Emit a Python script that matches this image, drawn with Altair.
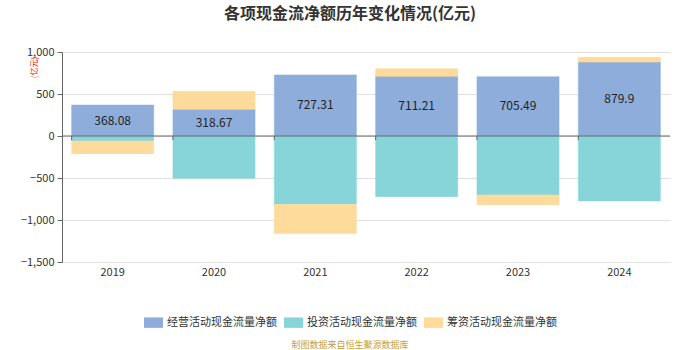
import altair as alt
import pandas as pd

years = ["2019", "2020", "2021", "2022", "2023", "2024"]
operating = [368.08, 318.67, 727.31, 711.21, 705.49, 879.9]
investing = [-60, -504, -813, -722, -702, -774]
financing = [-150, 213, -349, 90, -115, 57]
series = ["经营活动现金流量净额", "投资活动现金流量净额", "筹资活动现金流量净额"]
colors = ["#8EADDB", "#87D5D9", "#FEDA9B"]
source_text = "制图数据来自恒生聚源数据库"
font = "Noto Sans CJK SC"

rows = []
for i, y in enumerate(years):
    for k, vals in enumerate([operating, investing, financing]):
        rows.append({"year": y, "series": series[k], "value": vals[i], "order": k})
df = pd.DataFrame(rows)
lab = pd.DataFrame({"year": years, "value": operating, "half": [v / 2 for v in operating]})

xenc = alt.X("year:N", sort=years, title=None,
             scale=alt.Scale(paddingInner=0.19, paddingOuter=0.095),
             axis=alt.Axis(domain=False, ticks=False, labelAngle=0, labelFontSize=11,
                           labelColor="#333333", labelPadding=4, labelFont=font))

bars = alt.Chart(df).mark_bar(strokeWidth=1, strokeOpacity=0.5).encode(
    x=xenc,
    y=alt.Y("value:Q", stack="zero",
            scale=alt.Scale(domain=[-1500, 1000], nice=False),
            axis=alt.Axis(values=[-1500, -1000, -500, 0, 500, 1000], format=",.0f",
                          title="(亿元)", titleColor="#ff0000", titleFontSize=8,
                          titleFontWeight="normal", titleX=-28, titleY=15,
                          titleAlign="center", titleBaseline="middle", titleFont=font,
                          labelFontSize=11, labelColor="#333333", labelFont=font,
                          domain=True, domainColor="#666666", tickColor="#666666",
                          tickSize=5, labelPadding=3,
                          grid=True, gridColor="#E0E0E0")),
    color=alt.Color("series:N", sort=series,
                    scale=alt.Scale(domain=series, range=colors),
                    legend=alt.Legend(title=None, orient="none", direction="horizontal",
                                      legendX=82, legendY=261,
                                      symbolType="M-1,-0.55 L1,-0.55 L1,0.55 L-1,0.55 Z",
                                      symbolSize=360, symbolStrokeWidth=0,
                                      labelFontSize=11, labelColor="#333333", labelFont=font,
                                      columnPadding=7, symbolOffset=0)),
    stroke=alt.Color("series:N", sort=series,
                     scale=alt.Scale(domain=series, range=colors), legend=None),
    order=alt.Order("order:Q"),
)

zero = alt.Chart(pd.DataFrame({"z": [0]})).mark_rule(color="#666666", strokeWidth=1).encode(
    y=alt.Y("z:Q"))

ticks_df = pd.DataFrame({"year": years})
zticks = alt.Chart(ticks_df).mark_rule(color="#666666").encode(
    x=alt.X("year:N", sort=years, bandPosition=0),
    y=alt.datum(0), y2=alt.datum(-50))

labels = alt.Chart(lab).mark_text(fontSize=12, color="#222222", font=font).encode(
    x=alt.X("year:N", sort=years),
    y=alt.Y("half:Q"),
    text=alt.Text("value:Q"))

src = alt.Chart(pd.DataFrame({"t": [source_text]})).mark_text(
    fontSize=9, color="#C9A035", font=font).encode(
    x=alt.value(288), y=alt.value(293), text="t:N")

chart = alt.layer(bars, zero, zticks, labels, src).properties(
    width=608, height=210,
    autosize=alt.AutoSizeParams(type="none"),
    padding={"left": 62, "top": 52, "right": 30, "bottom": 88},
    title=alt.Title("各项现金流净额历年变化情况(亿元)", fontSize=16, fontWeight="bold",
                    color="#333333", font=font, anchor="middle", dx=-16, dy=-2, offset=22),
).configure_view(stroke=None)

chart.save("out.html", embed_options={"renderer": "svg", "actions": False})
